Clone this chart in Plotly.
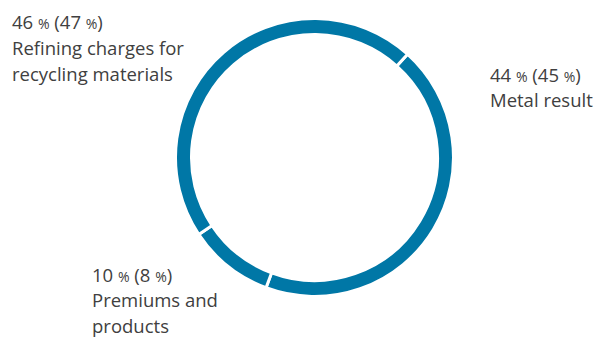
import plotly.graph_objects as go

categories = ["Metal result", "Premiums and products", "Refining charges for recycling materials"]
values = [44, 10, 46]
prev_values = [45, 8, 47]
label_lines = [["Metal result"], ["Premiums and", "products"], ["Refining charges for", "recycling materials"]]

color = "#0077a6"
txt_color = "#404040"
W, H = 600, 340

fig = go.Figure(go.Pie(
    labels=categories,
    values=values,
    sort=False,
    direction="clockwise",
    rotation=42,
    hole=0.885,
    marker=dict(colors=[color] * 3, line=dict(color="white", width=3)),
    textinfo="none",
    hoverinfo="label+percent",
    showlegend=False,
    domain=dict(x=[0.2925, 0.7558], y=[0.128, 0.9456]),
))

def pct(v):
    return f"{v} <span style='font-size:14px'>%</span>"

# label block anchor: left x, middle y of first line (pixels), line step
positions = [(488, 74), (90, 274), (10, 21.7)]
step = 25.8

for cat, v, pv, lines, (x, y0) in zip(categories, values, prev_values, label_lines, positions):
    texts = [f"{pct(v)} ({pct(pv)})"] + lines
    for i, t in enumerate(texts):
        fig.add_annotation(
            x=x / W, y=1 - (y0 + i * step) / H, xref="paper", yref="paper",
            xanchor="left", yanchor="middle", align="left",
            text=t, showarrow=False,
            font=dict(family="Open Sans", size=18.5, color=txt_color),
        )

fig.update_layout(
    width=W, height=H,
    margin=dict(l=0, r=0, t=0, b=0),
    paper_bgcolor="white", plot_bgcolor="white",
)
fig.write_html("out.html", config={"displayModeBar": False},
               post_script="document.body.style.margin='0px';")
